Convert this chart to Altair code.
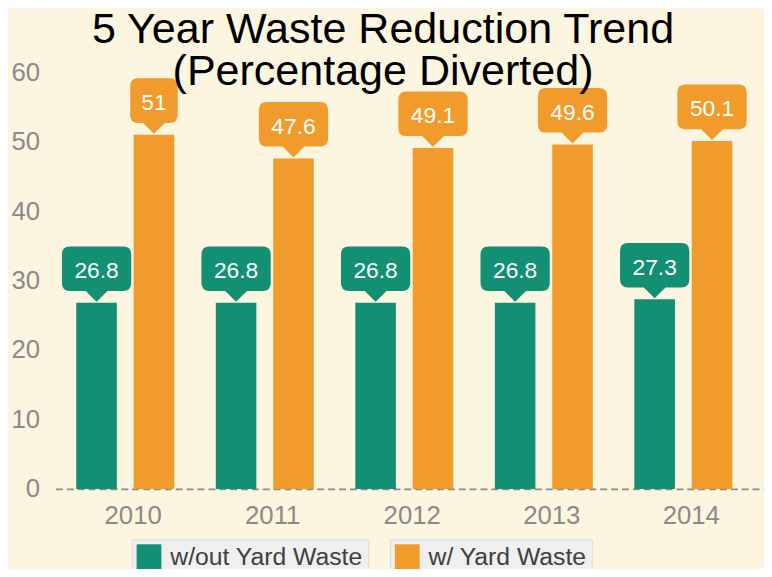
import altair as alt
import pandas as pd

years = ["2010", "2011", "2012", "2013", "2014"]
without_yard = [26.8, 26.8, 26.8, 26.8, 27.3]
with_yard = [51, 47.6, 49.1, 49.6, 50.1]
series_names = ["w/out Yard Waste", "w/ Yard Waste"]
series_colors = ["#138F73", "#F19B2C"]
y_ticks = [0, 10, 20, 30, 40, 50, 60]
title_lines = ["5 Year Waste Reduction Trend", "(Percentage Diverted)"]

rows = []
for s, vals in zip(series_names, [without_yard, with_yard]):
    for yr, v in zip(years, vals):
        rows.append({"year": yr, "series": s, "value": v})
df = pd.DataFrame(rows)

FONT = "Liberation Sans"

# callout shapes (1 unit = 1 px at size 4), tip at the bar top
def callout_path(hw):
    r = 8
    top, bot = -57, -12
    return (
        f"M {-hw},{top + r} Q {-hw},{top} {-hw + r},{top} "
        f"L {hw - r},{top} Q {hw},{top} {hw},{top + r} "
        f"L {hw},{bot - r} Q {hw},{bot} {hw - r},{bot} "
        f"L 11,{bot} L 0,-1 L -11,{bot} "
        f"L {-hw + r},{bot} Q {-hw},{bot} {-hw},{bot - r} Z"
    )

wide_shape = callout_path(35)
narrow_shape = callout_path(24)

x_enc = alt.X(
    "year:N",
    sort=years,
    scale=alt.Scale(paddingInner=0, paddingOuter=0.039, align=0),
    axis=alt.Axis(
        title=None,
        labelAngle=0,
        labelFontSize=26,
        labelColor="#8A8A8A",
        labelFont=FONT,
        labelPadding=14,
        labelOffset=8,
        ticks=False,
        tickSize=0,
        domain=True,
        domainColor="#8C8C8C",
        domainWidth=2,
        domainDash=[7, 4],
        grid=False,
    ),
)
y_enc = alt.Y(
    "value:Q",
    scale=alt.Scale(domain=[0, 60], nice=False),
    axis=alt.Axis(
        title=None,
        values=y_ticks,
        labelFontSize=26,
        labelColor="#8A8A8A",
        labelFont=FONT,
        labelPadding=16,
        ticks=False,
        tickSize=0,
        domain=False,
        grid=False,
    ),
)
xoff_enc = alt.XOffset(
    "series:N",
    sort=series_names,
    scale=alt.Scale(domain=series_names, paddingInner=0.293, paddingOuter=0.362),
)

base = alt.Chart(df)

legend_x = [77, 338]
layers_bars = []
layers_callouts = []
layers_text = []
for name, color, lx in zip(series_names, series_colors, legend_x):
    filt = alt.datum.series == name
    bars = base.transform_filter(filt).mark_bar().encode(
        x=x_enc,
        y=y_enc,
        xOffset=xoff_enc,
        color=alt.Color(
            "series:N",
            scale=alt.Scale(domain=[name], range=[color]),
            legend=alt.Legend(
                title=None,
                orient="none",
                legendX=lx,
                legendY=472,
                fillColor="#EFEFEF",
                strokeColor="#DCDCDC",
                padding=5,
                symbolType="square",
                symbolSize=625,
                symbolStrokeWidth=0,
                symbolOpacity=1,
                labelFontSize=25,
                labelFont=FONT,
                labelColor="#404040",
                labelOffset=9,
                labelLimit=400,
            ),
        ),
    )
    callout = base.transform_filter(filt).mark_point(
        filled=True, opacity=1, strokeWidth=0, size=4, color=color
    ).encode(
        x=x_enc,
        y=y_enc,
        xOffset=xoff_enc,
        shape=alt.condition(
            "length(toString(datum.value)) < 3",
            alt.value(narrow_shape),
            alt.value(wide_shape),
        ),
    )
    text = base.transform_filter(filt).mark_text(
        color="white", fontSize=23, font=FONT, baseline="middle", align="center", dy=-32
    ).encode(
        x=x_enc,
        y=y_enc,
        xOffset=xoff_enc,
        text=alt.Text("value:Q"),
    )
    layers_bars.append(bars)
    layers_callouts.append(callout)
    layers_text.append(text)

chart = (
    alt.layer(*layers_bars, *layers_callouts, *layers_text)
    .resolve_scale(color="independent")
    .properties(
        width=716,
        height=421,
        autosize=alt.AutoSizeParams(type="none"),
        padding={"left": 48, "right": 0, "top": 62, "bottom": 78},
        background="#FCF5E0",
        title=alt.Title(
            text=title_lines,
            fontSize=43.5,
            font=FONT,
            fontWeight="normal",
            color="black",
            anchor="middle",
            frame="group",
            lineHeight=42,
            offset=0,
            dx=-27,
            dy=35,
        ),
    )
    .configure_view(stroke=None)
)

chart.save("out.html", embed_options={"renderer": "svg", "actions": False})
